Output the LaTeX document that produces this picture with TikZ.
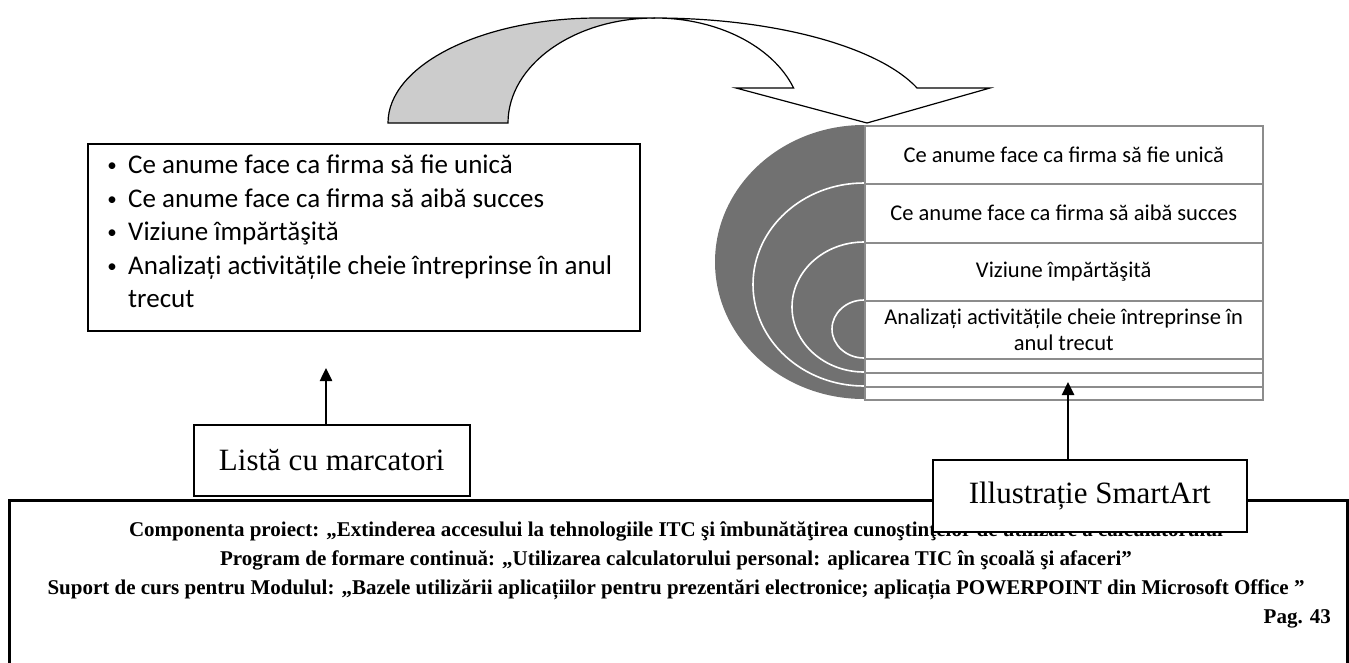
\documentclass[tikz,border=0pt]{standalone}
\usepackage{fontspec}
\setmainfont{Liberation Serif}
\newfontfamily\calib{Carlito}
\usetikzlibrary{arrows.meta}
\definecolor{darkfill}{HTML}{717171}
\definecolor{rowline}{HTML}{8C8C8C}
\definecolor{lightfill}{HTML}{CCCCCC}
\begin{document}
\begin{tikzpicture}[x=1pt,y=-1pt,
  box/.style={draw=black, line width=1.5pt, fill=white, inner sep=0pt, anchor=north west},
  arr/.style={line width=2.5pt, -{Triangle[length=13pt,width=12pt]}},
  li/.style={anchor=base west, inner sep=0pt, font=\calib\fontsize{27}{30}\selectfont},
  bul/.style={anchor=base, inner sep=0pt, font=\calib\fontsize{19}{22}\selectfont},
  rowbox/.style={draw=rowline, line width=1.5pt, fill=white, inner sep=0pt, anchor=north west,
    minimum width=398pt, align=center, font=\calib\fontsize{22.5}{26}\selectfont},
  arcline/.style={draw=white, line width=1.6pt},
  foot/.style={anchor=base, inner sep=0pt, font=\bfseries\fontsize{21}{24}\selectfont},
  lbl/.style={box, font=\fontsize{31}{34}\selectfont}
]
\clip (0,0) rectangle (1349,662);
\useasboundingbox (0,0) rectangle (1349,662);

% curved arrow: back (grey) part
\draw[line width=1.2pt, fill=lightfill] (388,123)
  arc[start angle=180, end angle=90, x radius=210pt, y radius=105pt] -- (655,18)
  arc[start angle=90, end angle=180, x radius=147pt, y radius=105pt] -- cycle;
% curved arrow: front (white) part with head
\draw[line width=1.2pt, fill=white, line join=miter] (655,18)
  arc[start angle=90, end angle=19.47, x radius=278pt, y radius=105pt]
  -- (990,88) -- (867,123) -- (736,88) -- (793.6,88)
  arc[start angle=19.47, end angle=90, x radius=147pt, y radius=105pt] -- cycle;

% left bullet list box
\node[box, minimum width=552pt, minimum height=187pt] (leftbox) at (87,143) {};
\node[bul] (d1) at (112,171) {•};
\node[li] (t1) at (128,173) {Ce anume face ca firma să fie unică};
\node[bul] (d2) at (112,205) {•};
\node[li] (t2) at (128,207) {Ce anume face ca firma să aibă succes};
\node[bul] (d3) at (112,238) {•};
\node[li] (t3) at (128,240) {Viziune împărtăşită};
\node[bul] (d4) at (112,272) {•};
\node[li] (t4) at (128,274) {Analizați activitățile cheie întreprinse în anul};
\node[li] (t5) at (128,307) {trecut};

% SmartArt: dark half ellipse with white arcs
\fill[darkfill] (864,125) arc[start angle=90, end angle=270, x radius=149pt, y radius=137pt] -- cycle;
\draw[arcline] (864,183) arc[start angle=90, end angle=270, x radius=111pt, y radius=101.5pt];
\draw[arcline] (864,242) arc[start angle=90, end angle=270, x radius=72pt, y radius=65pt];
\draw[arcline] (864,300) arc[start angle=90, end angle=270, x radius=32pt, y radius=29pt];

% SmartArt rows
\node[rowbox, minimum height=58pt] (r1) at (864,125) {Ce anume face ca firma să fie unică};
\node[rowbox, minimum height=59pt] (r2) at (864,183) {Ce anume face ca firma să aibă succes};
\node[rowbox, minimum height=58pt] (r3) at (864,242) {Viziune împărtăşită};
\node[rowbox, minimum height=58pt] (r4) at (864,300) {Analizați activitățile cheie întreprinse în\\anul trecut};
\node[rowbox, minimum height=14pt] (r5) at (864,358) {};
\node[rowbox, minimum height=14pt] (r6) at (864,372) {};
\node[rowbox, minimum height=13pt] (r7) at (864,386) {};

% footer frame and text
\node[draw=black, line width=2.6pt, inner sep=0pt, anchor=north west,
  minimum width=1338pt, minimum height=220pt] (footer) at (8,499) {};
\node[foot] (f1) at (676,536) {Componenta proiect: „Extinderea accesului la tehnologiile ITC şi îmbunătăţirea cunoştinţelor de utilizare a calculatorului};
\node[foot] (f2) at (676,565) {Program de formare continuă: „Utilizarea calculatorului personal: aplicarea TIC în şcoală şi afaceri”};
\node[foot] (f3) at (676,594) {Suport de curs pentru Modulul: „Bazele utilizării aplicațiilor pentru prezentări electronice; aplicația POWERPOINT din Microsoft Office ”};
\node[foot, anchor=base east] (f4) at (1331,623) {Pag. 43};

% label boxes and arrows
\node[lbl, minimum width=276pt, minimum height=71pt] (listlbl) at (193,424) {Listă cu marcatori};
\node[lbl, minimum width=314pt, minimum height=72pt] (smartlbl) at (932,459) {Illustrație SmartArt};
\coordinate (tipL) at (326,368);
\coordinate (tipR) at (1068,382);
\draw[arr] (listlbl.north -| tipL) -- (tipL);
\draw[arr] (smartlbl.north -| tipR) -- (tipR);
\end{tikzpicture}
\end{document}
